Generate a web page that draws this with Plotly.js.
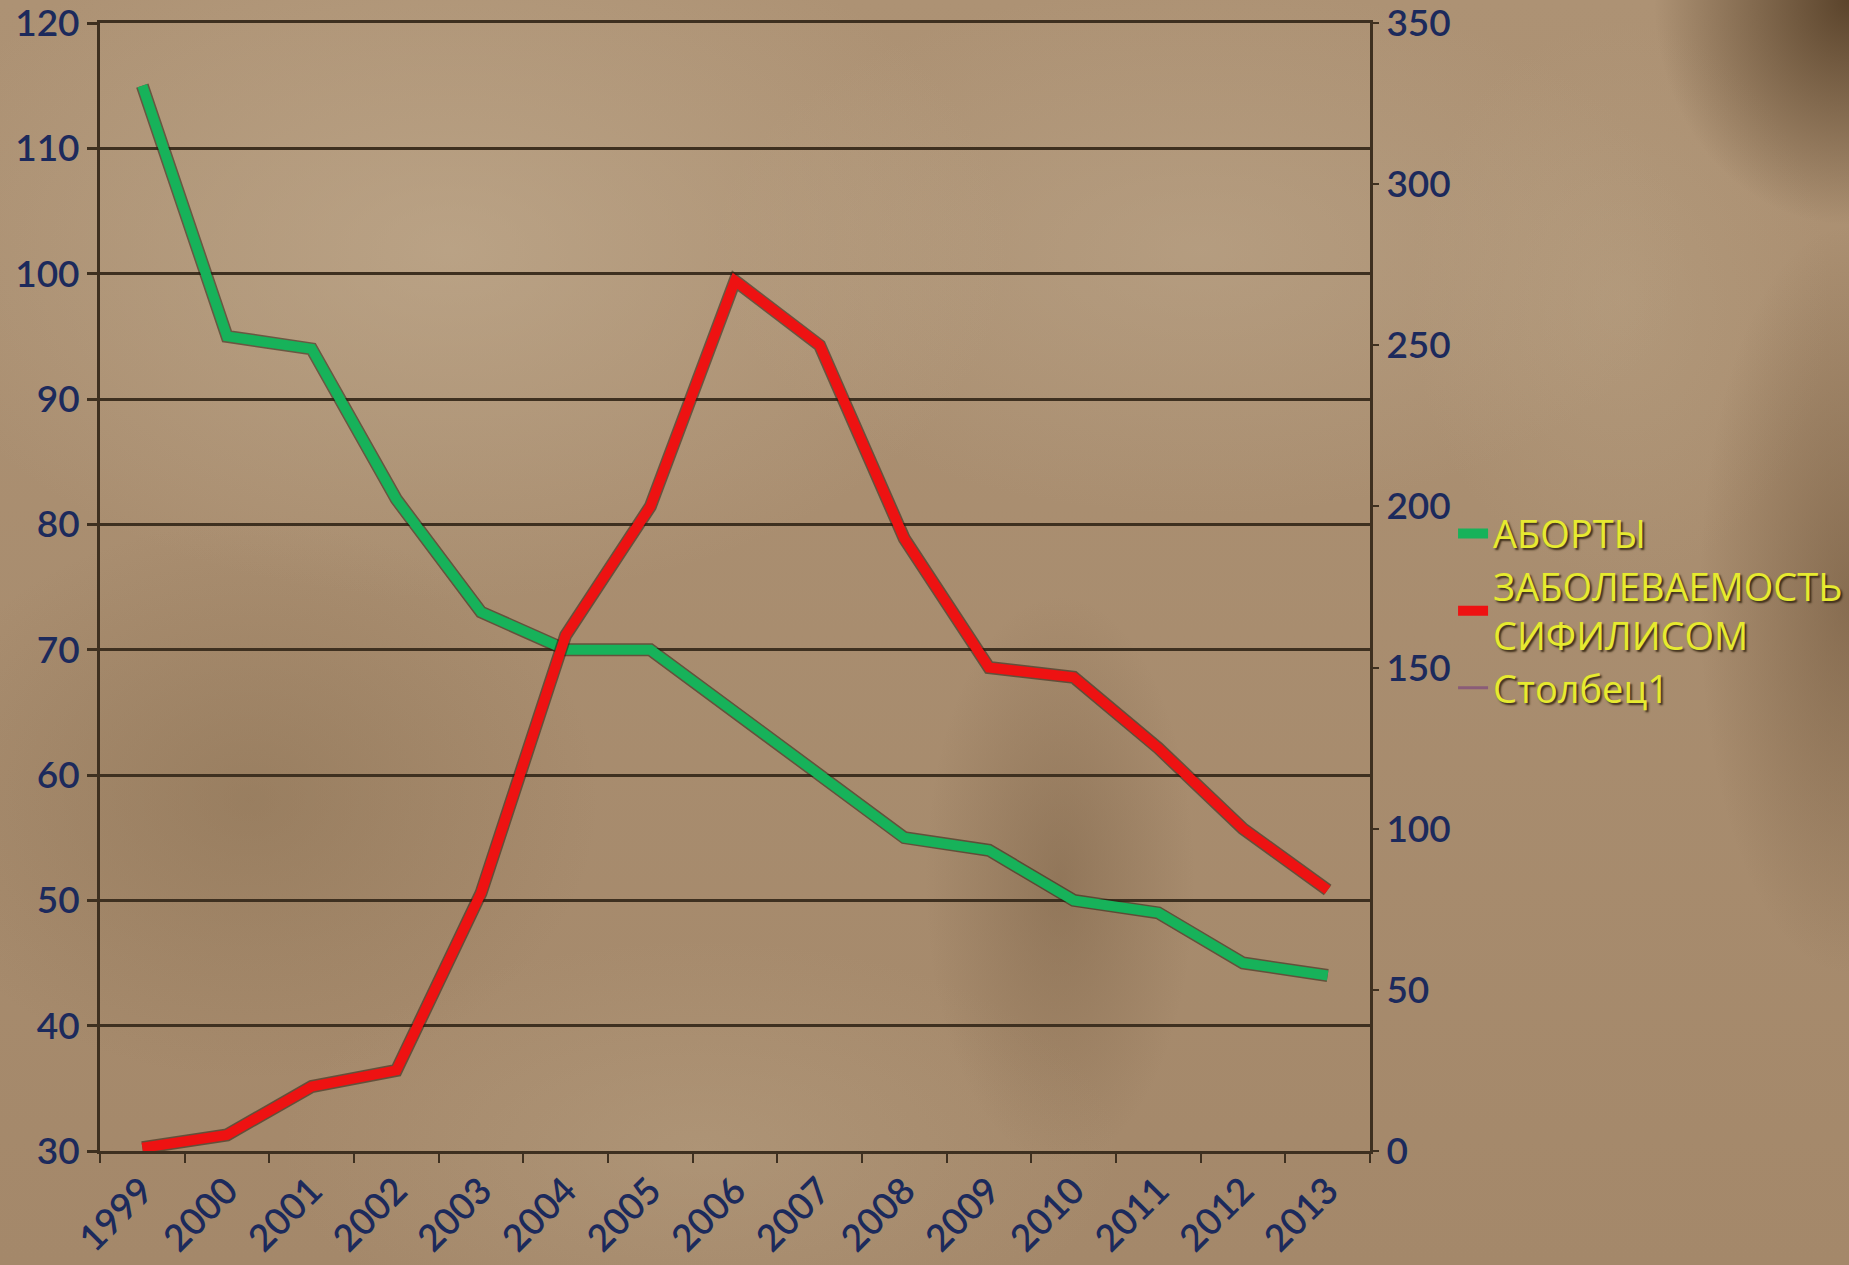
<!DOCTYPE html>
<html><head><meta charset="utf-8">
<script src="https://cdn.plot.ly/plotly-3.0.1.min.js"></script>
<style>
html,body{margin:0;padding:0;width:1849px;height:1265px;overflow:hidden;}
body{
  background-color:#a88c6d;
  background-image:
    radial-gradient(ellipse 260px 300px at 1849px 0px, rgba(70,48,25,0.8), rgba(70,48,25,0) 75%),
    radial-gradient(ellipse 200px 500px at 1849px 600px, rgba(85,60,35,0.4), rgba(85,60,35,0) 75%),
    radial-gradient(ellipse 180px 380px at 1060px 880px, rgba(95,70,45,0.30), rgba(95,70,45,0) 75%),
    radial-gradient(ellipse 800px 500px at 450px 250px, rgba(200,180,152,0.5), rgba(200,180,152,0) 70%),
    radial-gradient(ellipse 700px 380px at 1200px 250px, rgba(195,175,148,0.4), rgba(195,175,148,0) 70%),
    radial-gradient(ellipse 500px 400px at 250px 800px, rgba(120,95,65,0.3), rgba(120,95,65,0) 70%),
    radial-gradient(ellipse 600px 300px at 700px 1150px, rgba(190,168,138,0.35), rgba(190,168,138,0) 70%),
    radial-gradient(ellipse 300px 400px at 1620px 300px, rgba(190,168,138,0.35), rgba(190,168,138,0) 70%),
    linear-gradient(180deg, #ad9274 0%, #a4886a 100%);
}
#chart{width:1849px;height:1265px;}
</style></head>
<body><div id="chart"></div>
<script>
const years = ['1999','2000','2001','2002','2003','2004','2005','2006','2007','2008','2009','2010','2011','2012','2013'];
const abortions = [115, 95, 94, 82, 73, 70, 70, 65, 60, 55, 54, 50, 49, 45, 44];
const syphilis = [1, 5, 20, 25, 80, 160, 200, 270, 250, 190, 150, 147, 125, 100, 81];
const column1 = [null, null, null, null, null, null, null, null, null, null, null, null, null, null, null];
const seriesNames = ['АБОРТЫ', 'ЗАБОЛЕВАЕМОСТЬ<br>СИФИЛИСОМ', 'Столбец1'];
const leftTicks = [30, 40, 50, 60, 70, 80, 90, 100, 110, 120];
const rightTicks = [0, 50, 100, 150, 200, 250, 300, 350];

const tickFont = {family: 'Lato, "Open Sans", sans-serif', size: 37, color: '#1c2a5c', weight: 600};
const shadowColor = 'rgba(45,32,18,0.55)';

const traces = [
  {x: years, y: abortions, type: 'scatter', mode: 'lines', yaxis: 'y', showlegend: false, hoverinfo: 'skip',
   line: {color: shadowColor, width: 13}},
  {x: years, y: syphilis, type: 'scatter', mode: 'lines', yaxis: 'y2', showlegend: false, hoverinfo: 'skip',
   line: {color: shadowColor, width: 13}},
  {x: years, y: abortions, type: 'scatter', mode: 'lines', yaxis: 'y', name: seriesNames[0],
   line: {color: '#17b25a', width: 10}},
  {x: years, y: syphilis, type: 'scatter', mode: 'lines', yaxis: 'y2', name: seriesNames[1],
   line: {color: '#ee1212', width: 10}},
  {x: years, y: column1, type: 'scatter', mode: 'lines', yaxis: 'y2', name: seriesNames[2],
   line: {color: '#8a5c78', width: 3}}
];

const layout = {
  width: 1849, height: 1265,
  paper_bgcolor: 'rgba(0,0,0,0)', plot_bgcolor: 'rgba(0,0,0,0)',
  margin: {l: 100, r: 479, t: 23, b: 114, autoexpand: false},
  showlegend: true,
  legend: {
    x: 1.0654, y: 0.575, xanchor: 'left', yanchor: 'top',
    bgcolor: 'rgba(0,0,0,0)', borderwidth: 0,
    traceorder: 'normal', itemwidth: 30,
    font: {family: '"Open Sans", "Noto Sans", sans-serif', size: 38, color: '#e6ea30',
           shadow: '2px 2px 2px rgba(50,35,15,0.9)'}
  },
  xaxis: {
    type: 'category', tickangle: -45, tickfont: tickFont,
    showline: true, linecolor: '#3e3020', linewidth: 3, mirror: true,
    ticks: 'outside', ticklen: 9, tickwidth: 2, tickcolor: '#3e3020',
    tickson: 'boundaries', showgrid: false, zeroline: false,
    range: [-0.5, 14.5]
  },
  yaxis: {
    range: [30, 120], tickvals: leftTicks, ticktext: leftTicks.map(String), tickfont: tickFont,
    ticklabeloverflow: 'allow',
    showline: true, linecolor: '#3e3020', linewidth: 3,
    ticks: 'outside', ticklen: 10, tickwidth: 3, tickcolor: '#3e3020',
    showgrid: true, gridcolor: '#3e3020', gridwidth: 3, zeroline: false
  },
  yaxis2: {
    overlaying: 'y', side: 'right', range: [0, 350], tickvals: rightTicks, ticktext: rightTicks.map(String),
    ticklabeloverflow: 'allow',
    tickfont: tickFont, showline: true, linecolor: '#3e3020', linewidth: 3,
    ticks: 'outside', ticklen: 6, tickwidth: 2, tickcolor: '#3e3020',
    showgrid: false, zeroline: false
  }
};

Plotly.newPlot('chart', traces, layout, {displayModeBar: false, staticPlot: true});
</script>
</body></html>
